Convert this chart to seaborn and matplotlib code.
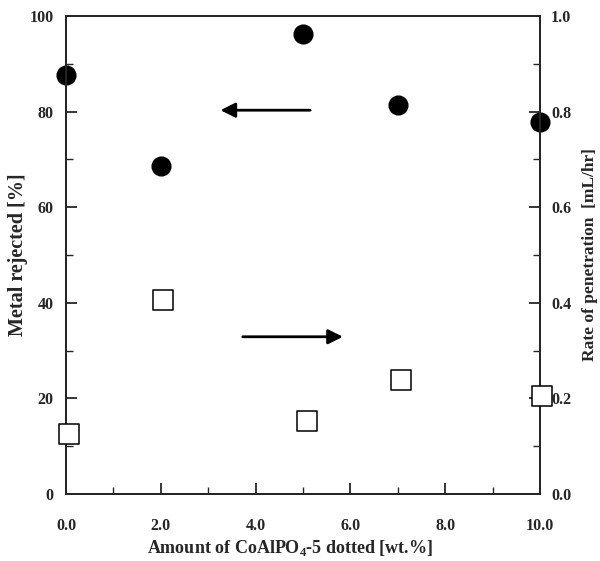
import numpy as np
import pandas as pd
import matplotlib
matplotlib.use('Agg')
import matplotlib.pyplot as plt
import seaborn as sns
from matplotlib.ticker import MultipleLocator, FormatStrFormatter

# 数据
amount_rej = [0.0, 2.0, 5.0, 7.0, 10.0]
metal_rejected = [87.7, 68.6, 96.2, 81.4, 77.9]
amount_pen = [0.06, 2.05, 5.08, 7.07, 10.05]
penetration_rate = [0.126, 0.406, 0.153, 0.238, 0.205]

sns.set_style('ticks')
plt.rcParams['font.family'] = ['Liberation Serif', 'DejaVu Serif']
plt.rcParams['font.weight'] = 'bold'
plt.rcParams['mathtext.fontset'] = 'custom'
plt.rcParams['mathtext.rm'] = 'Liberation Serif'
plt.rcParams['mathtext.bf'] = 'Liberation Serif:bold'

fig = plt.figure(figsize=(6, 5.61), dpi=100)
ax = fig.add_axes([0.11, 0.1194, 0.79, 0.852])
ax2 = ax.twinx()

sns.scatterplot(x=amount_rej, y=metal_rejected, ax=ax, s=180, color='black',
                marker='o', edgecolor='black', clip_on=False, zorder=5)
sns.scatterplot(x=amount_pen, y=penetration_rate, ax=ax2, s=190, color='white',
                marker='s', edgecolor='black', linewidth=1.1, clip_on=False, zorder=5)

ax.set_xlim(0, 10)
ax.set_ylim(0, 100)
ax2.set_ylim(0, 1.0)

ax.xaxis.set_major_locator(MultipleLocator(2))
ax.xaxis.set_minor_locator(MultipleLocator(1))
ax.xaxis.set_major_formatter(FormatStrFormatter('%.1f'))
ax.yaxis.set_major_locator(MultipleLocator(20))
ax.yaxis.set_minor_locator(MultipleLocator(10))
ax2.yaxis.set_major_locator(MultipleLocator(0.2))
ax2.yaxis.set_minor_locator(MultipleLocator(0.1))
ax2.yaxis.set_major_formatter(FormatStrFormatter('%.1f'))

for a in (ax, ax2):
    a.tick_params(which='major', direction='in', length=8, width=1.3, labelsize=11.5)
    a.tick_params(which='minor', direction='in', length=5, width=1.0)
    for sp in a.spines.values():
        sp.set_linewidth(1.4)
        sp.set_visible(True)
ax.tick_params(axis='x', which='both', top=False, pad=17)
ax.tick_params(axis='y', pad=9)
ax2.tick_params(axis='y', pad=8)

# 箭头
ax.annotate('', xy=(3.2, 80.3), xytext=(5.21, 80.3),
            arrowprops=dict(arrowstyle='-|>', color='black', lw=2, mutation_scale=22))
ax.annotate('', xy=(5.9, 32.9), xytext=(3.67, 32.9),
            arrowprops=dict(arrowstyle='-|>', color='black', lw=2, mutation_scale=22))

ax.set_xlabel('Amount of CoAlPO$_\\mathrm{4}$-5 dotted [wt.%]', fontsize=13, fontweight='bold')
ax.xaxis.set_label_coords(0.4726, -0.093)
ax.set_ylabel('Metal rejected [%]', fontsize=14.5, fontweight='bold', labelpad=1)
ax2.set_ylabel('Rate of penetration  [mL/hr]', fontsize=12.5, fontweight='bold', labelpad=8)

fig.savefig('out.png', dpi=100)
